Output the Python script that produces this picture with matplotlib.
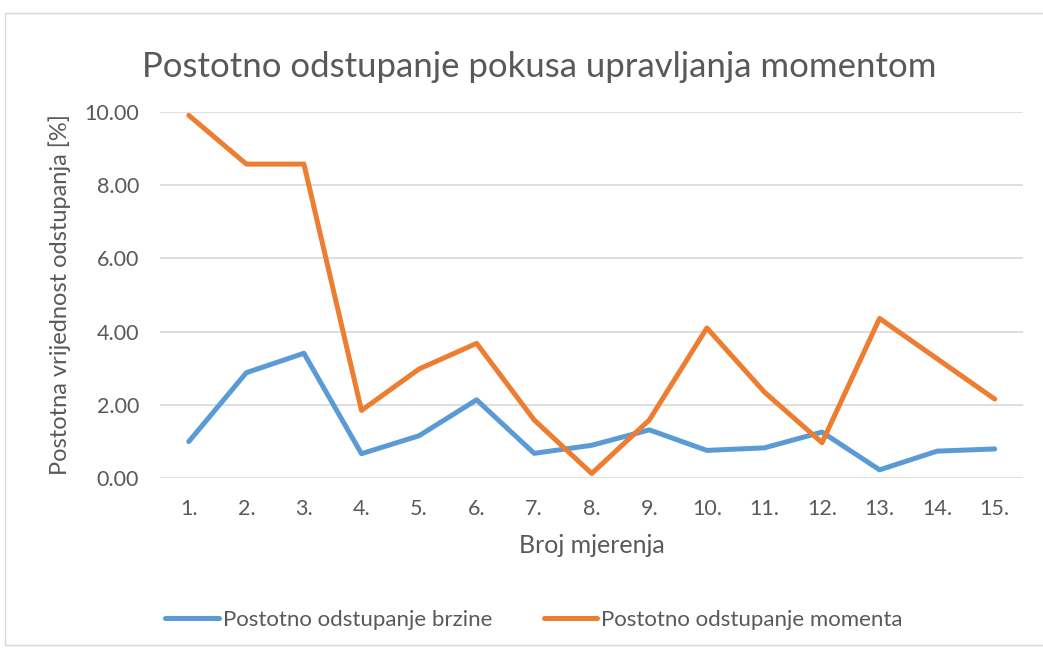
import matplotlib
matplotlib.use('Agg')
import matplotlib.pyplot as plt
from matplotlib.patches import Rectangle

# measurement labels and percentage deviations
mjerenja = ['1.', '2.', '3.', '4.', '5.', '6.', '7.', '8.', '9.', '10.', '11.', '12.', '13.', '14.', '15.']
brzina = [1.00, 2.88, 3.41, 0.67, 1.16, 2.14, 0.68, 0.90, 1.32, 0.76, 0.83, 1.26, 0.23, 0.74, 0.80]
moment = [9.90, 8.57, 8.57, 1.85, 2.98, 3.68, 1.59, 0.13, 1.59, 4.10, 2.35, 0.97, 4.36, 3.26, 2.16]
yticks = [0, 2, 4, 6, 8, 10]

plt.rcParams['font.family'] = ['Lato', 'DejaVu Sans']
txt = '#595959'

fig = plt.figure(figsize=(10.43, 6.5), dpi=100)
ax = fig.add_axes([0.1534, 0.2642, 0.8279, 0.564])

# chart area frame
fig.patches.append(Rectangle((5 / 1043, 1 - 645 / 650), 1.1, 632 / 650,
                             transform=fig.transFigure, fill=False,
                             edgecolor='#D9D9D9', linewidth=1))

x = range(len(mjerenja))
ax.plot(x, brzina, color='#5B9BD5', lw=3.6, solid_joinstyle='round',
        solid_capstyle='round', label='Postotno odstupanje brzine')
ax.plot(x, moment, color='#ED7D31', lw=3.6, solid_joinstyle='round',
        solid_capstyle='round', label='Postotno odstupanje momenta')

ax.set_xlim(-0.5, len(mjerenja) - 0.5)
ax.set_ylim(0, 10)
ax.set_xticks(list(x))
ax.set_xticklabels(mjerenja)
ax.set_yticks(yticks)
ax.set_yticklabels(['%.2f' % v for v in yticks])
ax.tick_params(length=0, labelsize=15.5, labelcolor=txt)
ax.tick_params(axis='x', pad=15)
ax.tick_params(axis='y', pad=15)
ax.grid(axis='y', color='#D9D9D9', lw=1.2)
ax.set_axisbelow(True)
for s in ax.spines.values():
    s.set_visible(False)

ax.set_xlabel('Broj mjerenja', fontsize=18, color=txt, labelpad=11)
ax.set_ylabel('Postotna vrijednost odstupanja [%]', fontsize=17, color=txt, labelpad=10)
fig.text(0.517, 0.897, 'Postotno odstupanje pokusa upravljanja momentom',
         ha='center', va='center', fontsize=25, color=txt)

fig.legend(loc='center', bbox_to_anchor=(0.512, 0.046), ncol=2, frameon=False,
           fontsize=16, labelcolor=txt, handlelength=2.4, handletextpad=0.2,
           columnspacing=2.3)

fig.savefig('out.png', dpi=100)
